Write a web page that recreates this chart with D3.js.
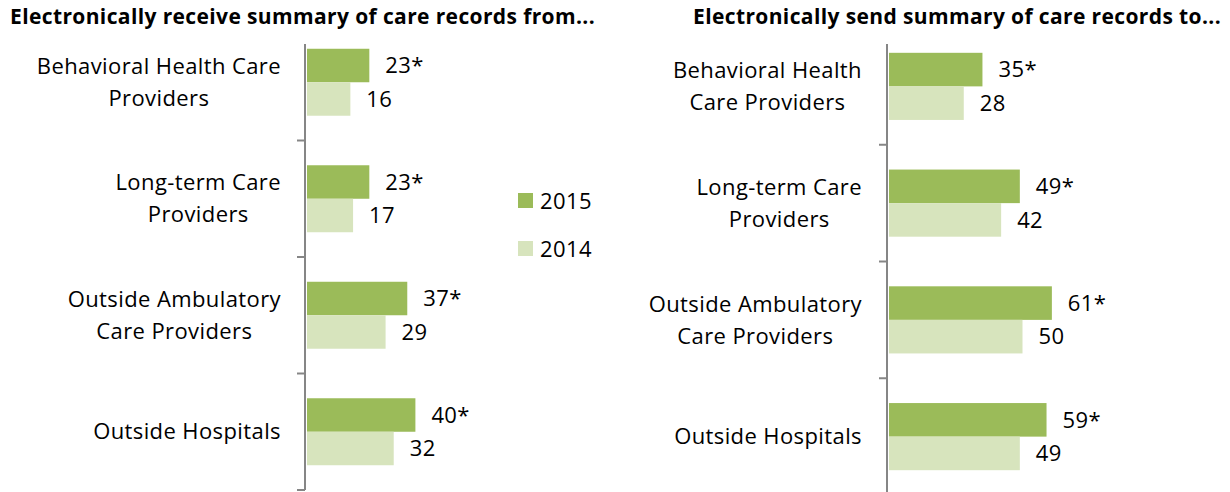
<!DOCTYPE html>
<html>
<head>
    <script src="https://d3js.org/d3.v7.min.js"></script>
    <style>
        body { margin: 0; background: #fff; }
        text { font-family: "Open Sans", sans-serif; fill: #000; }
        .title { font-weight: bold; font-size: 21px; letter-spacing: 0.38px; }
        .cat, .val, .leg { font-size: 22px; letter-spacing: 0.4px; }
    </style>
</head>
<body>
<div id="chart"></div>
<script>
    const years = ["2015", "2014"];
    const receiveCats = ["Behavioral Health Care Providers", "Long-term Care Providers",
        "Outside Ambulatory Care Providers", "Outside Hospitals"];
    const receiveLines = [["Behavioral Health Care", "Providers"], ["Long-term Care", "Providers"],
        ["Outside Ambulatory", "Care Providers"], ["Outside Hospitals"]];
    const receive2015 = [23, 23, 37, 40];
    const receive2014 = [16, 17, 29, 32];
    const sendCats = receiveCats;
    const sendLines = [["Behavioral Health", "Care Providers"], ["Long-term Care", "Providers"],
        ["Outside Ambulatory", "Care Providers"], ["Outside Hospitals"]];
    const send2015 = [35, 49, 61, 59];
    const send2014 = [28, 42, 50, 49];
    const stars = [true, false]; // 2015 values significant

    const colors = { "2015": "#9bbb59", "2014": "#d7e4bd" };

    const svg = d3.select("#chart").append("svg")
        .attr("width", 1230)
        .attr("height", 492);

    function panel(opts) {
        const g = svg.append("g");
        const y = d3.scaleBand().domain(opts.cats)
            .range(opts.yRange).paddingInner(0.425).paddingOuter(0.2125);
        const ys = d3.scaleBand().domain(years).range([0, y.bandwidth()]);
        const x = d3.scaleLinear().domain([0, 100]).range([opts.x0 + 2, opts.x0 + 2 + opts.pxPer * 100]);

        g.append("text").attr("class", "title")
            .attr("x", opts.titleX).attr("y", 24)
            .text(opts.title);

        const series = [opts.v2015, opts.v2014];
        years.forEach(function(yr, si) {
            g.selectAll(".bar" + yr)
                .data(opts.cats)
                .enter().append("rect")
                .attr("x", x(0))
                .attr("y", d => y(d) + ys(yr))
                .attr("width", (d, i) => x(series[si][i]) - x(0))
                .attr("height", ys.bandwidth())
                .attr("fill", colors[yr]);

            g.selectAll(".val" + yr)
                .data(opts.cats)
                .enter().append("text")
                .attr("class", "val")
                .attr("x", (d, i) => x(series[si][i]) + 16)
                .attr("y", d => y(d) + ys(yr) + ys.bandwidth() / 2)
                .attr("dy", "0.35em")
                .text((d, i) => series[si][i] + (stars[si] ? "*" : ""));
        });

        // axis line with ticks at band boundaries
        const bottom = opts.yRange[0] + y.step() * opts.cats.length;
        g.append("line")
            .attr("x1", opts.x0).attr("x2", opts.x0)
            .attr("y1", 44).attr("y2", bottom)
            .attr("stroke", "#868686").attr("stroke-width", 2);
        d3.range(1, opts.cats.length + 1).forEach(function(i) {
            const ty = opts.yRange[0] + y.step() * i;
            g.append("line")
                .attr("x1", opts.x0 - 8).attr("x2", opts.x0)
                .attr("y1", ty).attr("y2", ty)
                .attr("stroke", "#868686").attr("stroke-width", 2);
        });

        // category labels: block right-aligned at labelX, lines centred within it
        opts.cats.forEach(function(c, i) {
            const lines = opts.lines[i];
            const cy = y(c) + y.bandwidth() / 2;
            const t = g.append("text").attr("class", "cat")
                .attr("text-anchor", "middle");
            const spans = lines.map(function(l, j) {
                return t.append("tspan")
                    .attr("y", cy + (j - (lines.length - 1) / 2) * 32)
                    .attr("dy", "0.35em")
                    .text(l);
            });
            const maxW = d3.max(spans, s => s.node().getComputedTextLength());
            spans.forEach(s => s.attr("x", opts.labelX - maxW / 2));
        });
    }

    panel({
        title: "Electronically receive summary of care records from...",
        titleX: 10, cats: receiveCats, lines: receiveLines,
        v2015: receive2015, v2014: receive2014,
        yRange: [24, 490], x0: 305, pxPer: 2.71, labelX: 281
    });
    panel({
        title: "Electronically send summary of care records to...",
        titleX: 693, cats: sendCats, lines: sendLines,
        v2015: send2015, v2014: send2014,
        yRange: [28, 495], x0: 887, pxPer: 2.67, labelX: 862
    });

    // legend
    const legend = svg.selectAll(".legend")
        .data(years)
        .enter().append("g")
        .attr("transform", (d, i) => `translate(518,${193 + i * 48})`);
    legend.append("rect")
        .attr("width", 15).attr("height", 15)
        .attr("fill", d => colors[d]);
    legend.append("text")
        .attr("class", "leg")
        .attr("x", 22).attr("y", 8).attr("dy", "0.35em")
        .text(d => d);
</script>
</body>
</html>
